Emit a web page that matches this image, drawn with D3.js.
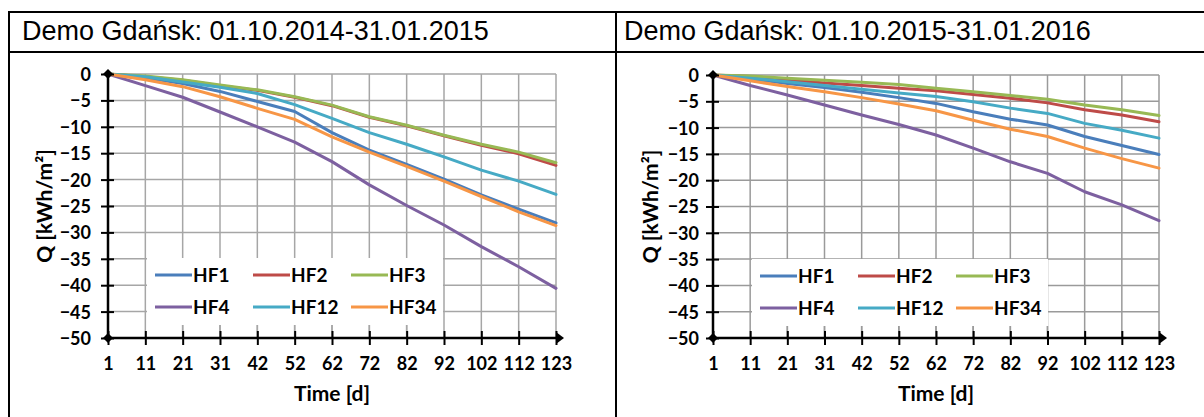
<!DOCTYPE html>
<html><head><meta charset="utf-8">
<script src="https://cdn.jsdelivr.net/npm/d3@7"></script>
<style>
html,body{margin:0;padding:0;background:#fff;}
svg{display:block;}
</style></head>
<body>
<svg id="chart" width="1204" height="417"></svg>
<script>
// ---------- DATA ----------
const days = ["1","11","21","31","42","52","62","72","82","92","102","112","123"];
const yTickValues = [0,-5,-10,-15,-20,-25,-30,-35,-40,-45,-50];
const seriesNames = ["HF1","HF2","HF3","HF4","HF12","HF34"];
const titles = ["Demo Gdańsk: 01.10.2014-31.01.2015","Demo Gdańsk: 01.10.2015-31.01.2016"];
const yTitle = "Q [kWh/m²]";
const xTitle = "Time [d]";

// Panel 1 (2014/2015)
const p1_HF1  = [0,-0.7,-1.8,-3.3,-5.2,-7.1,-11.1,-14.4,-17.1,-19.9,-22.9,-25.6,-28.2];
const p1_HF2  = [0,-0.5,-1.2,-2.2,-3.1,-4.4,-6.0,-8.2,-9.8,-11.7,-13.5,-15.1,-17.3];
const p1_HF3  = [0,-0.4,-1.1,-2.1,-3.0,-4.3,-5.9,-8.1,-9.7,-11.6,-13.3,-14.8,-16.8];
const p1_HF4  = [0,-2.2,-4.4,-7.2,-10.0,-12.9,-16.6,-21.0,-24.9,-28.6,-32.7,-36.5,-40.6];
const p1_HF12 = [0,-0.5,-1.5,-2.5,-3.7,-5.8,-8.4,-11.1,-13.3,-15.7,-18.2,-20.3,-22.8];
const p1_HF34 = [0,-1.1,-2.4,-4.3,-6.5,-8.6,-11.9,-14.8,-17.5,-20.3,-23.2,-26.1,-28.7];

// Panel 2 (2015/2016)
const p2_HF1  = [0,-0.7,-1.6,-2.4,-3.3,-4.3,-5.4,-7.0,-8.4,-9.5,-11.7,-13.4,-15.1];
const p2_HF2  = [0,-0.3,-0.9,-1.5,-2.0,-2.5,-3.0,-3.7,-4.4,-5.3,-6.6,-7.6,-8.9];
const p2_HF3  = [0,-0.2,-0.6,-1.0,-1.4,-1.8,-2.5,-3.2,-3.9,-4.6,-5.7,-6.6,-7.7];
const p2_HF4  = [0,-2.0,-3.8,-5.7,-7.6,-9.4,-11.4,-13.9,-16.5,-18.7,-22.2,-24.7,-27.7];
const p2_HF12 = [0,-0.6,-1.3,-2.0,-2.7,-3.4,-4.1,-5.1,-6.3,-7.3,-9.2,-10.5,-12.0];
const p2_HF34 = [0,-1.1,-2.2,-3.2,-4.3,-5.5,-6.8,-8.6,-10.3,-11.7,-13.9,-15.9,-17.7];

const panelData = [
  [p1_HF1,p1_HF2,p1_HF3,p1_HF4,p1_HF12,p1_HF34],
  [p2_HF1,p2_HF2,p2_HF3,p2_HF4,p2_HF12,p2_HF34]
];

// ---------- STYLE / LAYOUT ----------
const colors = {HF1:"#4a7ebb",HF2:"#be4b48",HF3:"#98b954",HF4:"#7d60a0",HF12:"#46aac5",HF34:"#f79646"};
const panels = [
  {ox:108, oy:74, w:448, h:264, titleX:22, yLabGap:17, yTitleX:52, gridColor:"#a6a6a6"},
  {ox:713, oy:75, w:446, h:263, titleX:624, yLabGap:14, yTitleX:658, gridColor:"#9a9a9a"}
];
const FONT = "Lato, 'Open Sans', sans-serif";
const TICK_FS = 18, LEG_FS = 19, TITLE_FS = 21;

const svg = d3.select("#chart");

// table frame
const frame = svg.append("g").attr("stroke","#000").attr("stroke-width",2);
frame.append("line").attr("x1",8).attr("x2",1204).attr("y1",12).attr("y2",12);
frame.append("line").attr("x1",8).attr("x2",1204).attr("y1",52).attr("y2",52);
frame.append("line").attr("x1",9).attr("x2",9).attr("y1",11).attr("y2",417);
frame.append("line").attr("x1",616).attr("x2",616).attr("y1",11).attr("y2",417);

panels.forEach((p, pi) => {
  // title
  svg.append("text").attr("x",p.titleX).attr("y",40)
    .attr("font-family","'Liberation Sans', Arial, sans-serif").attr("font-size",27)
    .attr("fill","#000").text(titles[pi]);

  const g = svg.append("g").attr("transform",`translate(${p.ox},${p.oy})`);
  const x = d3.scalePoint().domain(days).range([0,p.w]);
  const y = d3.scaleLinear().domain([-50,0]).range([p.h,0]);

  // gridlines
  const grid = g.append("g").attr("stroke",p.gridColor).attr("stroke-width",1.5);
  yTickValues.filter(v=>v>-50).forEach(v=>{
    grid.append("line").attr("x1",0).attr("x2",p.w).attr("y1",y(v)).attr("y2",y(v));
  });
  days.slice(1).forEach(d=>{
    grid.append("line").attr("x1",x(d)).attr("x2",x(d)).attr("y1",0).attr("y2",p.h);
  });

  // series
  const line = d3.line().x((d,i)=>x(days[i])).y(d=>y(d));
  seriesNames.forEach((name, si)=>{
    g.append("path").datum(panelData[pi][si])
      .attr("fill","none").attr("stroke",colors[name]).attr("stroke-width",3)
      .attr("stroke-linejoin","round").attr("stroke-linecap","round")
      .attr("d",line);
  });

  // legend
  const lg = g.append("g").attr("transform",`translate(39,184)`);
  lg.append("rect").attr("x",0).attr("y",0).attr("width",296).attr("height",67).attr("fill","#fff");
  seriesNames.forEach((name, si)=>{
    const col = si%3, row = Math.floor(si/3);
    const sx = 8 + col*98, sy = 17 + row*32;
    lg.append("line").attr("x1",sx).attr("x2",sx+37).attr("y1",sy).attr("y2",sy)
      .attr("stroke",colors[name]).attr("stroke-width",3);
    lg.append("text").attr("x",sx+38).attr("y",sy).attr("dy","0.36em")
      .attr("font-family",FONT).attr("font-weight",700).attr("font-size",LEG_FS)
      .attr("fill","#000").text(name);
  });
  // gridline bits between legend bottom and axis
  const gridB = g.append("g").attr("stroke",p.gridColor).attr("stroke-width",1.5);
  days.slice(1).forEach(d=>{
    if (x(d) > 38 && x(d) < 336) gridB.append("line").attr("x1",x(d)).attr("x2",x(d)).attr("y1",251).attr("y2",p.h);
  });

  // axes
  const yAxis = d3.axisLeft(y).tickValues(yTickValues).tickSize(0).tickFormat(d3.format("d"));
  const ya = g.append("g").call(yAxis);
  ya.select(".domain").remove();
  ya.selectAll("text").attr("x",-p.yLabGap).attr("dy","0.36em")
    .attr("font-family",FONT).attr("font-weight",700).attr("font-size",TICK_FS).attr("fill","#000");
  ya.selectAll(".tick line").remove();
  ya.selectAll(".tick").append("line").attr("x1",-7).attr("x2",6).attr("stroke","#000").attr("stroke-width",2);

  const xAxis = d3.axisBottom(x).tickSize(0);
  const xa = g.append("g").attr("transform",`translate(0,${p.h})`).call(xAxis);
  xa.select(".domain").remove();
  xa.selectAll(".tick line").remove();
  xa.selectAll(".tick").append("line").attr("y1",-7).attr("y2",7).attr("stroke","#000").attr("stroke-width",2);
  xa.selectAll("text").attr("y",32).attr("dy",0)
    .attr("font-family",FONT).attr("font-weight",700).attr("font-size",TICK_FS).attr("fill","#000");

  // axis lines
  g.append("line").attr("x1",0).attr("x2",0).attr("y1",0).attr("y2",p.h).attr("stroke","#000").attr("stroke-width",2.5);
  g.append("line").attr("x1",0).attr("x2",p.w).attr("y1",p.h).attr("y2",p.h).attr("stroke","#000").attr("stroke-width",2.5);
  // diamonds and arrow
  g.append("path").attr("d","M0,-5L5,0L0,5L-5,0Z").attr("fill","#000");
  g.append("path").attr("transform",`translate(0,${p.h})`).attr("d","M0,-5L5,0L0,5L-5,0Z").attr("fill","#000");
  g.append("path").attr("transform",`translate(${p.w},${p.h})`).attr("d","M0,-6L8,0L0,6Z").attr("fill","#000");

  // axis titles
  svg.append("text").attr("transform",`translate(${p.yTitleX},${p.oy+p.h/2}) rotate(-90)`)
    .attr("text-anchor","middle").attr("font-family",FONT).attr("font-weight",700).attr("font-size",TITLE_FS)
    .attr("fill","#000").text(yTitle);
  svg.append("text").attr("x",p.ox+p.w/2).attr("y",401).attr("text-anchor","middle")
    .attr("font-family",FONT).attr("font-weight",700).attr("font-size",TITLE_FS)
    .attr("fill","#000").text(xTitle);
});
</script>
</body></html>
